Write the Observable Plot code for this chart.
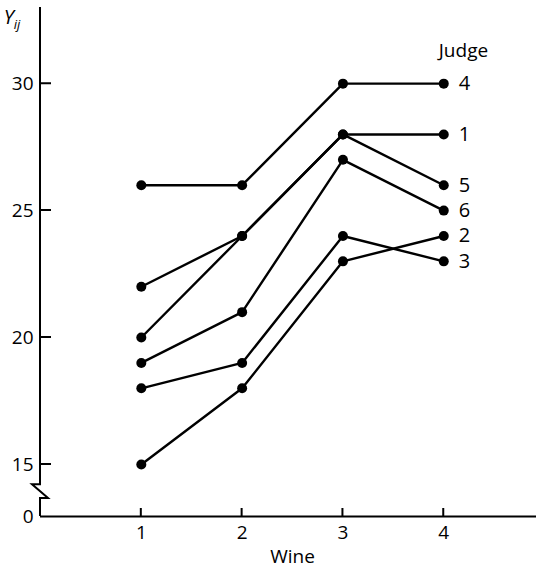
<!DOCTYPE html>
<html><head><meta charset="utf-8">
<script src="https://cdn.jsdelivr.net/npm/d3@7"></script>
<script src="https://cdn.jsdelivr.net/npm/@observablehq/plot@0.6"></script>
<style>body{margin:0;background:#fff} svg{display:block}</style>
</head><body><div id="chart"></div>
<script>
const wines = [1, 2, 3, 4];
const judges = ["1", "2", "3", "4", "5", "6"];
const judge1 = [20, 24, 28, 28];
const judge2 = [15, 18, 23, 24];
const judge3 = [18, 19, 24, 23];
const judge4 = [26, 26, 30, 30];
const judge5 = [22, 24, 28, 26];
const judge6 = [19, 21, 27, 25];
const yTicks = [0, 15, 20, 25, 30];
const xTicks = [1, 2, 3, 4];

const series = [judge1, judge2, judge3, judge4, judge5, judge6];
const data = judges.flatMap((j, i) => wines.map((w, k) => ({judge: j, wine: w, score: series[i][k]})));
const last = data.filter(d => d.wine === wines[wines.length - 1]);

// broken axis: the 0 tick is drawn at this position
const zeroAt = 12.95;
const yTop = 33;
const breakHi = 14.2, breakLo = 13.66;
const pos = v => v === 0 ? zeroAt : v;
const font = "'Open Sans', 'Noto Sans', sans-serif";

function axisLine(index, scales) {
  const {x, y} = scales;
  const x0 = x(0), y0 = y(zeroAt);
  const h = y(breakLo) - y(breakHi);
  const d = `M${x0},${y(yTop)}V${y(breakHi)}h-8l16,${h}h-8V${y0}`;
  const path = document.createElementNS("http://www.w3.org/2000/svg", "path");
  path.setAttribute("d", d);
  path.setAttribute("fill", "none");
  path.setAttribute("stroke", "#000");
  path.setAttribute("stroke-width", "2");
  return path;
}
function tickMarks(index, scales) {
  const {x, y} = scales;
  const x0 = x(0), y0 = y(zeroAt);
  let d = "";
  for (const v of yTicks) if (v !== 0) d += `M${x0},${y(v)}h11`;
  for (const v of xTicks) d += `M${x(v)},${y0}v-8`;
  const path = document.createElementNS("http://www.w3.org/2000/svg", "path");
  path.setAttribute("d", d);
  path.setAttribute("fill", "none");
  path.setAttribute("stroke", "#000");
  path.setAttribute("stroke-width", "2");
  return path;
}

const chart = Plot.plot({
  width: 536, height: 575,
  marginLeft: 40, marginRight: 0, marginTop: 7, marginBottom: 59,
  x: {domain: [0, 4.92]},
  y: {domain: [zeroAt, yTop]},
  style: {fontFamily: font, fontSize: "18px", color: "#000", background: "#fff"},
  marks: [
    Plot.ruleY([zeroAt], {stroke: "#000", strokeWidth: 2}),
    axisLine,
    tickMarks,
    Plot.axisY({ticks: yTicks.map(pos), tickFormat: d => d === zeroAt ? "0" : String(d),
      tickSize: 0, tickPadding: 7, label: null, fontSize: 19}),
    Plot.axisX({ticks: xTicks, tickFormat: d => String(d), tickSize: 0, tickPadding: 9, label: null, fontSize: 19}),
    Plot.line(data, {x: "wine", y: "score", z: "judge", stroke: "#000", strokeWidth: 2.4}),
    Plot.dot(data, {x: "wine", y: "score", r: 5, fill: "#000"}),
    Plot.text(last, {x: "wine", y: "score", text: "judge", dx: 15, textAnchor: "start", fontSize: 20}),
    Plot.text(["Judge"], {x: wines[wines.length - 1], y: d3.max(last, d => d.score), dx: -5, dy: -33, textAnchor: "start", fontSize: 19}),
    Plot.text(["Wine"], {x: 2.5, frameAnchor: "bottom", dy: 46, fontSize: 19}),
    (index, {x, y}) => {
      const t = d3.create("svg:text")
        .attr("x", x(0) - 28).attr("y", y(yTop) + 17)
        .attr("font-family", font).attr("font-style", "italic").attr("font-size", 20);
      t.append("tspan").text("Y");
      t.append("tspan").attr("dy", 5).attr("font-size", 13).text("ij");
      return t.node();
    }
  ]
});
document.getElementById("chart").append(chart);
</script></body></html>
